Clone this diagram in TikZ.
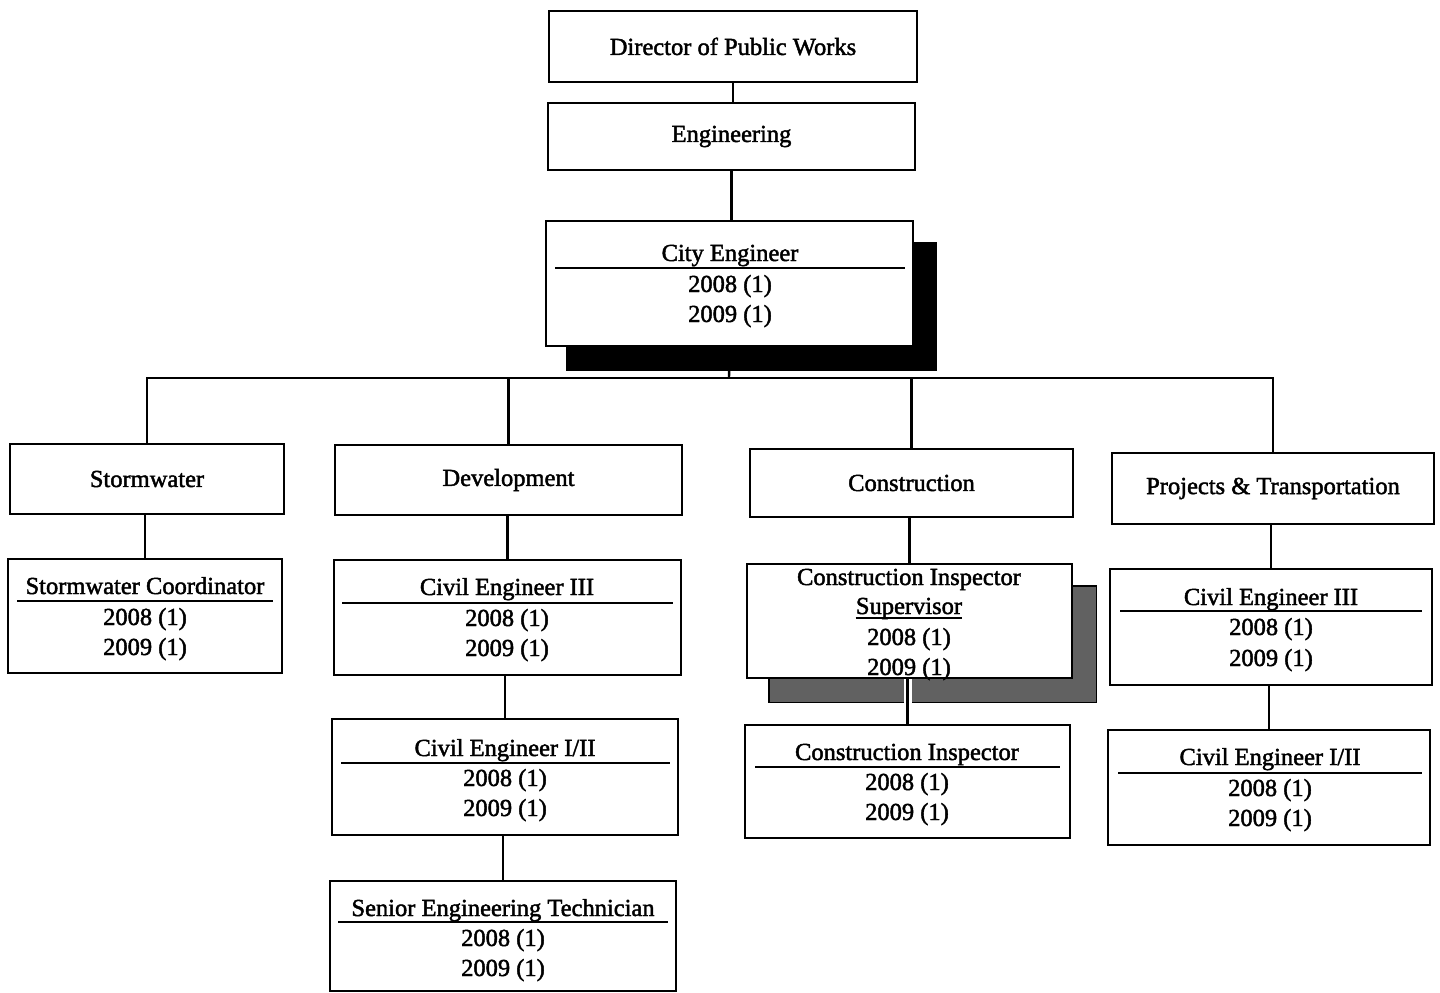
\documentclass[tikz,border=0pt]{standalone}
\usepackage{fontspec}
\setmainfont{Liberation Serif}
\newfontfamily\scanfont[FakeBold=1.8]{Liberation Serif}
\pgfdeclarelayer{paper}
\pgfdeclarelayer{links}
\pgfdeclarelayer{shadows}
\pgfdeclarelayer{toplinks}
\pgfsetlayers{paper,links,shadows,toplinks,main}
\tikzset{
  box/.style={draw, line width=2.8pt, fill=white, inner sep=0pt, font=\scanfont\fontsize{24.5}{30}\selectfont},
  lbl/.style={font=\scanfont\fontsize{24.5}{30}\selectfont, inner sep=0pt, anchor=base},
  uline/.style={line width=2pt},
  link/.style={line width=2.4pt},
  halo/.style={white, line width=8pt},
  blackshadow/.style={fill=black, draw=black, line width=1pt},
  greyshadow/.style={fill=black!62, draw=black, line width=1.8pt}
}
\begin{document}
\begin{tikzpicture}[x=1pt,y=-1pt]
\useasboundingbox (0,0) rectangle (1440,993);
\begin{pgfonlayer}{paper}
  \fill[white] (0,0) rectangle (1440,993);
\end{pgfonlayer}

% top level boxes
\node[box, minimum width=368, minimum height=71] (dir) at (733,46.5) {Director of Public Works};
\node[box, minimum width=367, minimum height=67] (eng) at (731.5,136.5) {Engineering};
\node[box, minimum width=367, minimum height=125] (city) at (729.5,283.5) {};
\node[lbl] (cityt) at (730,261) {City Engineer};
\draw[uline] (555,268) -- (905,268);
\node[lbl] (city8) at (730,292) {2008 (1)};
\node[lbl] (city9) at (730,322) {2009 (1)};

% second level
\node[box, minimum width=274, minimum height=70] (storm) at (147,479) {Stormwater};
\node[box, minimum width=347, minimum height=70] (dev) at (508.5,480) {Development};
\node[box, minimum width=323, minimum height=68] (cons) at (911.5,483) {Construction};
\node[box, minimum width=322, minimum height=71] (proj) at (1273,488.5) {Projects \& Transportation};

% Stormwater Coordinator
\node[box, minimum width=274, minimum height=114] (sc) at (145,616) {};
\node[lbl] (sct) at (145,594) {Stormwater Coordinator};
\draw[uline] (17,601) -- (273,601);
\node[lbl] (sc8) at (145,625) {2008 (1)};
\node[lbl] (sc9) at (145,655) {2009 (1)};

% Development: Civil Engineer III
\node[box, minimum width=347, minimum height=115] (dce3) at (507.5,617.5) {};
\node[lbl] (dce3t) at (507,595) {Civil Engineer III};
\draw[uline] (342,603) -- (673,603);
\node[lbl] (dce38) at (507,626) {2008 (1)};
\node[lbl] (dce39) at (507,656) {2009 (1)};

% Development: Civil Engineer I/II
\node[box, minimum width=346, minimum height=116] (dce12) at (505,777) {};
\node[lbl] (dce12t) at (505,756) {Civil Engineer I/II};
\draw[uline] (341,763) -- (670,763);
\node[lbl] (dce128) at (505,786) {2008 (1)};
\node[lbl] (dce129) at (505,816) {2009 (1)};

% Senior Engineering Technician
\node[box, minimum width=346, minimum height=110] (set) at (503,936) {};
\node[lbl] (sett) at (503,916) {Senior Engineering Technician};
\draw[uline] (338,922) -- (668,922);
\node[lbl] (set8) at (503,946) {2008 (1)};
\node[lbl] (set9) at (503,976) {2009 (1)};

% Construction Inspector Supervisor
\node[box, minimum width=325, minimum height=114] (cis) at (909.5,621) {};
\node[lbl] (cist) at (909,585) {Construction Inspector};
\node[lbl] (cissup) at (909,614) {Supervisor};
\draw[uline] ([yshift=-4pt]cissup.base west) -- ([yshift=-4pt]cissup.base east);
\node[lbl] (cis8) at (909,645) {2008 (1)};
\node[lbl] (cis9) at (909,675) {2009 (1)};

% Construction Inspector
\node[box, minimum width=325, minimum height=113] (ci) at (907.5,781.5) {};
\node[lbl] (cit) at (907,760) {Construction Inspector};
\draw[uline] (755,767) -- (1060,767);
\node[lbl] (ci8) at (907,790) {2008 (1)};
\node[lbl] (ci9) at (907,820) {2009 (1)};

% Projects: Civil Engineer III
\node[box, minimum width=322, minimum height=116] (pce3) at (1271,627) {};
\node[lbl] (pce3t) at (1271,605) {Civil Engineer III};
\draw[uline] (1120,611) -- (1422,611);
\node[lbl] (pce38) at (1271,635) {2008 (1)};
\node[lbl] (pce39) at (1271,666) {2009 (1)};

% Projects: Civil Engineer I/II
\node[box, minimum width=322, minimum height=115] (pce12) at (1269,787.5) {};
\node[lbl] (pce12t) at (1270,765) {Civil Engineer I/II};
\draw[uline] (1118,773) -- (1422,773);
\node[lbl] (pce128) at (1270,796) {2008 (1)};
\node[lbl] (pce129) at (1270,826) {2009 (1)};

% bus coordinate
\coordinate (bus) at (729,378);

\begin{pgfonlayer}{links}
  \draw[link] (dir.south) -- (dir.south |- eng.north);
  \draw[link] (eng.south) -- (eng.south |- city.north);
  \draw[link] (city.south) -- (bus);
  \draw[link] (storm.north) |- (bus) -| (proj.north);
  \draw[link] (dev.north) -- (dev.north |- bus);
  \draw[link] (cons.north) -- (cons.north |- bus);
  \draw[link] (sc.north) -- (sc.north |- storm.south);
  \draw[link] (dce3.north) -- (dce3.north |- dev.south);
  \draw[link] (dce12.north) -- (dce12.north |- dce3.south);
  \draw[link] (set.north) -- (set.north |- dce12.south);
  \draw[link] (cis.north) -- (cis.north |- cons.south);
  \draw[link] (pce3.north) -- (pce3.north |- proj.south);
  \draw[link] (pce12.north) -- (pce12.north |- pce3.south);
\end{pgfonlayer}

\begin{pgfonlayer}{shadows}
  \draw[blackshadow] ([shift={(22,23)}]city.north west) rectangle ([shift={(22,23)}]city.south east);
  \draw[greyshadow] ([shift={(23,23)}]cis.north west) rectangle ([shift={(23,23)}]cis.south east);
\end{pgfonlayer}

\begin{pgfonlayer}{toplinks}
  \draw[halo] (ci.north) -- (ci.north |- cis.south);
  \draw[link] (ci.north) -- (ci.north |- cis.south);
\end{pgfonlayer}
\end{tikzpicture}
\end{document}
